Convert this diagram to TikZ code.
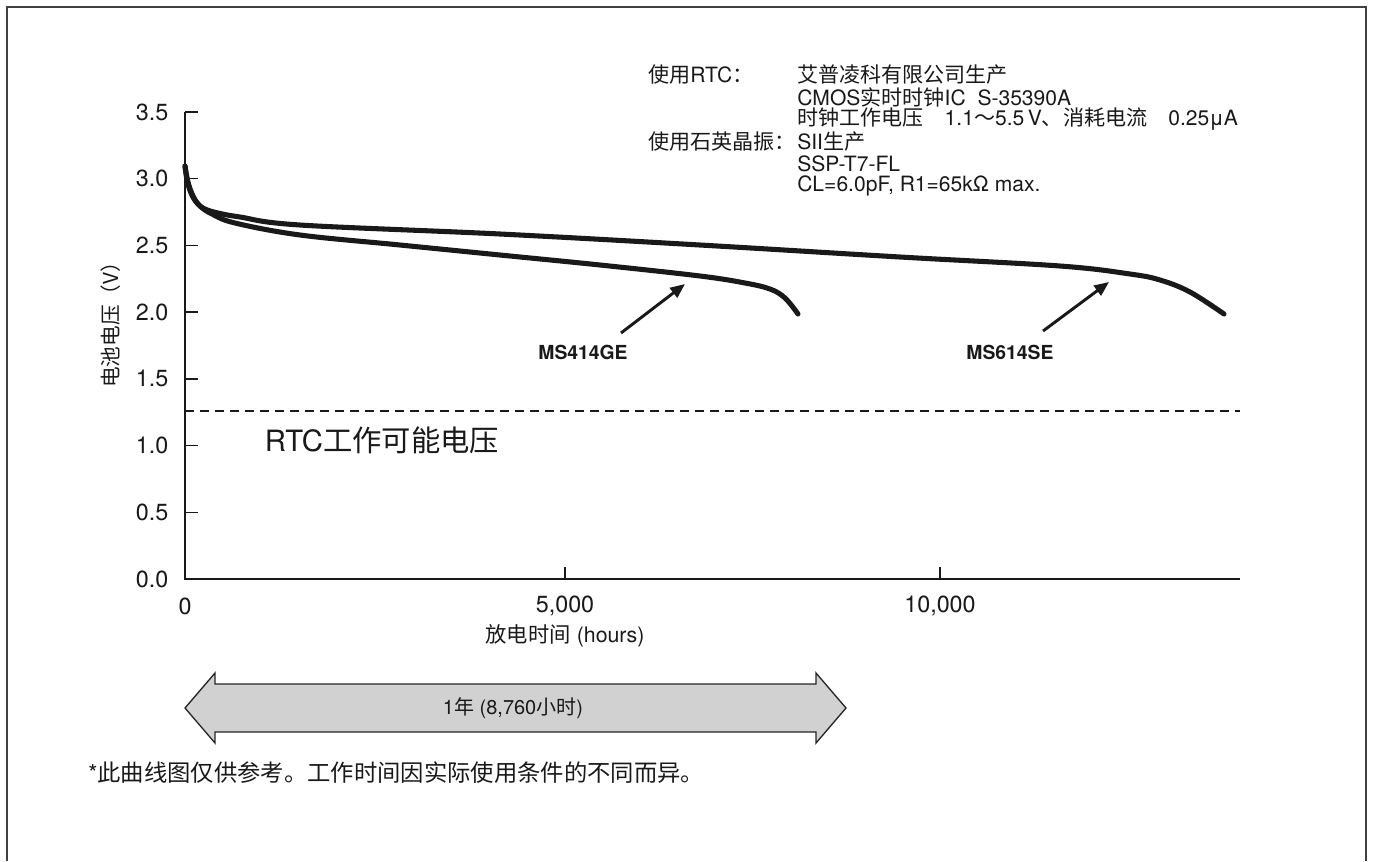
\documentclass[tikz,border=0pt]{standalone}
\usepackage{fontspec}
\setmainfont{TeX Gyre Heros}
\newfontfamily\zhfont{Noto Sans CJK SC}
\newcommand{\zh}[1]{{\zhfont #1}}
\usepackage{tikz}
\usetikzlibrary{arrows.meta}

\begin{document}
\begin{tikzpicture}[x=0.75pt,y=-0.75pt,
  every node/.style={text=black!90},
  curve/.style={line width=3.8pt,line cap=round,line join=round,black!90},
  pointer/.style={line width=2.2pt,black!90,-{Triangle[length=11pt,width=9pt]}},
  ticklbl/.style={font=\fontsize{17.5}{20}\selectfont},
  spec/.style={font=\fontsize{15.8}{17}\selectfont,anchor=west,inner sep=0pt},
  mslabel/.style={font=\fontsize{14.5}{16}\selectfont\bfseries,inner sep=0pt}]
\useasboundingbox (0,0) rectangle (1373,861);
% frame
\draw[line width=1pt,black!75] (7,861) -- (7,7) -- (1366,7) -- (1366,861);

% axes
\coordinate (origin) at (185,579);
\coordinate (ytop) at (185,112);
\coordinate (xend) at (1240,579);
\draw[line width=1.1pt,black!90] (ytop) -- (origin) -- (xend);
\foreach \v [count=\i] in {0.0,0.5,1.0,1.5,2.0,2.5,3.0,3.5} {
  \pgfmathsetmacro{\yy}{579-\v*133.43}
  \draw[line width=1.1pt,black!90] (185,\yy) -- (198,\yy);
  \node[ticklbl,anchor=east] (ylbl\i) at (173,\yy) {\v};
}
\draw[line width=1.1pt,black!90] (565,579) -- (565,567); \draw[line width=1.1pt,black!90] (940,579) -- (940,567);
\node[ticklbl] (xlbl0) at (185,606) {0};
\node[ticklbl] (xlbl1) at (565,606) {5,000};
\node[ticklbl] (xlbl2) at (940,606) {10,000};
\node[font=\fontsize{16}{18}\selectfont] (xtitle) at (565,636) {\zh{放电时间} (hours)};
\node[rotate=90,font=\fontsize{15.5}{17}\selectfont] (ytitle) at (111,320) {\zh{电池电压（V）}};

% RTC limit
\draw[line width=1.8pt,black!90,dash pattern=on 6.75pt off 4.5pt] (185,411) -- (1240,411);
\node[font=\fontsize{22}{26}\selectfont] (rtclbl) at (382,440) {RTC\zh{工作可能电压}};

% discharge curves
\draw[curve] plot[smooth,tension=0.6] coordinates {(185,166) (187,180) (191,193) (197,203) (205,209) (218,213) (240,217) (300,225) (500,234) (700,245) (900,257) (1060,266) (1130,274) (1160,280) (1190,292) (1224,314)};
\draw[curve] plot[smooth,tension=0.6] coordinates {(185,166) (188,182) (193,196) (200,206) (212,214) (235,223) (300,235) (400,245) (500,255) (600,265) (700,276) (745,283) (770,289) (785,298) (798,314)};

\node[mslabel] (ms414) at (583,352) {MS414GE};
\coordinate (tail414) at (621,333);
\coordinate (tip414) at (685,284);
\draw[pointer] (tail414) -- (tip414);
\node[mslabel] (ms614) at (1010,352) {MS614SE};
\coordinate (tail614) at (1043,331);
\coordinate (tip614) at (1109,282);
\draw[pointer] (tail614) -- (tip614);

% specs
\node[spec] (rtchead) at (648,75) {\zh{使用}RTC\zh{：}};
\node[spec] (rtc1) at (797,75) {\zh{艾普凌科有限公司生产}};
\node[spec] (rtc2) at (797,97) {CMOS\zh{实时时钟}IC\ \ S-35390A};
\node[spec] (rtc3) at (797,119) {\zh{时钟工作电压　}1.1\zh{～}5.5\,V\zh{、消耗电流　}0.25μA};
\node[spec] (xtalhead) at (648,142) {\zh{使用石英晶振：}};
\node[spec] (xtal1) at (797,142) {SII\zh{生产}};
\node[spec] (xtal2) at (797,164) {SSP-T7-FL};
\node[spec] (xtal3) at (797,186) {CL=6.0pF, R1=65kΩ max.};

% one year
\filldraw[fill=black!18,draw=black!85,line width=1pt] (185,708) -- (215,673) -- (215,684) -- (816,684) -- (816,673) -- (846,708) -- (816,743) -- (816,732) -- (215,732) -- (215,743) -- cycle;
\node[font=\fontsize{15}{17}\selectfont] (year) at (513,708) {1\zh{年} (8,760\zh{小时})};

\node[anchor=west,inner sep=0pt,font=\fontsize{17.5}{19}\selectfont] (note) at (88,773) {*\zh{此曲线图仅供参考。工作时间因实际使用条件的不同而异。}};
\end{tikzpicture}
\end{document}
